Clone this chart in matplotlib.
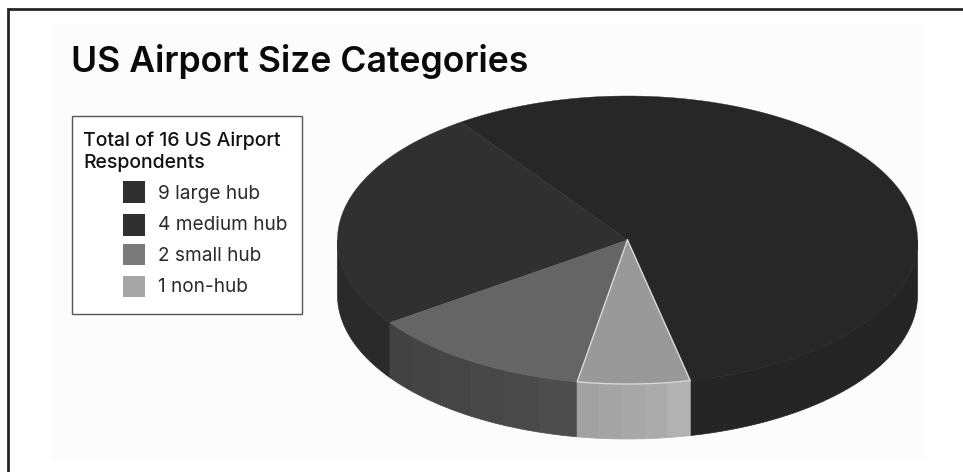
import matplotlib
matplotlib.use("Agg")
import matplotlib.pyplot as plt
from matplotlib.patches import Rectangle
import numpy as np

title = "US Airport Size Categories"
legend_title = ["Total of 16 US Airport", "Respondents"]
categories = ["large hub", "medium hub", "small hub", "non-hub"]
counts = [9, 4, 2, 1]

top_colors = ["#272727", "#303030", "#656565", "#999999"]
side_colors = [["#252525"],
               ["#2a2a2a"],
               ["#424242", "#444444", "#454545", "#474747", "#4a4a4a", "#4d4d4d"],
               ["#a2a2a2", "#a4a4a4", "#a8a8a8", "#ababab", "#b2b2b2"]]
swatch_colors = ["#2f2f2f", "#303030", "#7a7a7a", "#a6a6a6"]

plt.rcParams['font.family'] = ['Inter', 'Liberation Sans', 'DejaVu Sans']

fig = plt.figure(figsize=(9.63, 4.72), dpi=100, facecolor="white")
ax = fig.add_axes([0, 0, 1, 1])
ax.set_xlim(0, 963)
ax.set_ylim(472, 0)
ax.axis("off")

# page rule on the top and left, light panel behind the chart
ax.plot([7.5, 7.5, 963], [472, 8.5, 8.5], color="#262626", lw=2.0, solid_joinstyle="miter")
ax.add_patch(Rectangle((52, 24), 874, 436, fc="#fcfcfc", ec="none"))

ax.text(71, 72, title, fontsize=25.6, fontweight=600, color="#0a0a0a", va="baseline")

# legend box
ax.add_patch(Rectangle((72, 116), 230, 198, fc="white", ec="#555555", lw=1.0))
for i, line in enumerate(legend_title):
    ax.text(83, 145.5 + i * 22.5, line, fontsize=14.0, fontweight=500, color="#111111", va="baseline")
swatch_tops = [181, 214, 243.5, 275.5]
label_baselines = [199, 230.5, 261, 292.5]
for top, base, n, cat, col in zip(swatch_tops, label_baselines, counts, categories, swatch_colors):
    ax.add_patch(Rectangle((123, top), 22, 21.5, fc=col, ec="none"))
    ax.text(158, base, f"{n} {cat}", fontsize=13.7, color="#2a2a2a", va="baseline")

# tilted 3D pie, drawn as a side wall and a squashed top
cx, cy = 627.5, 240
rx, ry = 290, 144
depth = 55
start = 282.5

spans = np.array(counts) / np.sum(counts) * 360
ends = start + np.cumsum(spans)
starts = ends - spans


def rim(t):
    t = np.radians(t)
    return cx + rx * np.cos(t), cy - ry * np.sin(t)


# side wall: only the front half of the rim shows
for a, b, shades in zip(starts, ends, side_colors):
    pieces = []
    for lo, hi in [(a, b), (a - 360, b - 360), (a + 360, b + 360)]:
        lo, hi = max(lo, 180), min(hi, 360)
        if hi > lo:
            pieces.append((lo, hi))
    for lo, hi in pieces:
        edges = np.linspace(lo, hi, len(shades) + 1)
        for k, shade in enumerate(shades):
            t = np.linspace(edges[k], edges[k + 1], 60)
            x, y = rim(t)
            ax.fill(np.r_[x, x[::-1]], np.r_[y, y[::-1] + depth],
                    fc=shade, ec=shade, lw=0.5, joinstyle="round")

for a, b, col in zip(starts, ends, top_colors):
    x, y = rim(np.linspace(a, b, 200))
    ax.fill(np.r_[cx, x], np.r_[cy, y], fc=col, ec=col, lw=0.3)

# the smallest slice is outlined in a light line
a, b = starts[3], ends[3]
x, y = rim(np.linspace(a, b, 60))
ax.plot(np.r_[cx, x, cx], np.r_[cy, y, cy], color="#d8d8d8", lw=1.0, solid_joinstyle="miter")

fig.savefig("out.png", dpi=100)
